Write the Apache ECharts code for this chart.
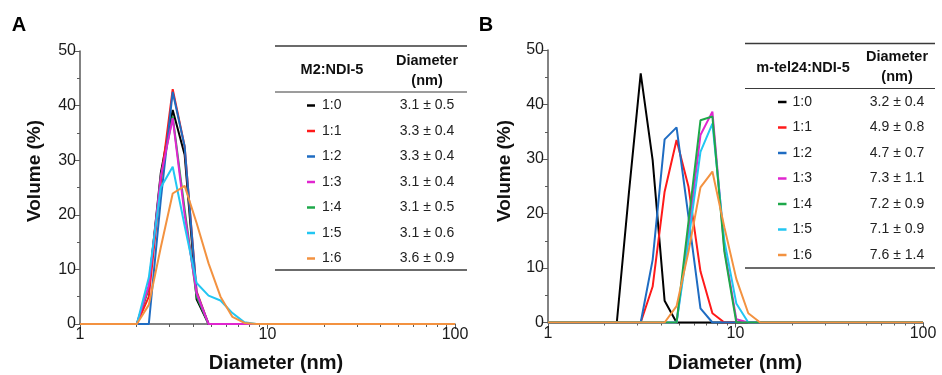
<!DOCTYPE html>
<html><head><meta charset="utf-8">
<script src="https://cdn.jsdelivr.net/npm/echarts@6/dist/echarts.min.js"></script>
<style>html,body{margin:0;padding:0;background:#fff}#c{width:942px;height:375px}</style>
</head><body><div id="c"></div>
<script>
// ---- data ----
const sizes = [1, 2.01, 2.328, 2.696, 3.122, 3.615, 4.187, 4.849, 5.615, 6.503, 7.531, 8.721, 10.1, 11.7, 13.54, 100];
const ratios = ['1:0', '1:1', '1:2', '1:3', '1:4', '1:5', '1:6'];
// Panel A (M2:NDI-5)
const aR10 = [0, 0, 6.8, 27.6, 39.2, 31, 4.5, 0, 0, 0, 0, 0, 0, 0, 0, 0];
const aR11 = [0, 0, 5, 26, 43, 32.5, 6, 0, 0, 0, 0, 0, 0, 0, 0, 0];
const aR12 = [0, 0, 0, 22.7, 42.5, 32.5, 5.7, 0, 0, 0, 0, 0, 0, 0, 0, 0];
const aR13 = [0, 0, 7, 27, 37.7, 20, 5.6, 0, 0, 0, 0, 0, 0, 0, 0, 0];
const aR14 = [0, 0, 6.5, 27, 38, 21, 5, 0, 0, 0, 0, 0, 0, 0, 0, 0];
const aR15 = [0, 0, 8.5, 25, 28.8, 18, 7.5, 5.2, 4.3, 2, 0.3, 0, 0, 0, 0, 0];
const aR16 = [0, 0, 3.5, 14, 23.9, 25.3, 18.5, 11.1, 5, 1.3, 0.2, 0, 0, 0, 0, 0];
// Panel B (m-tel24:NDI-5)
const bR10 = [0, 0, 0, 23.5, 45.7, 29.8, 4, 0, 0, 0, 0, 0, 0, 0, 0, 0];
const bR11 = [0, 0, 0, 0, 0, 6.6, 24, 33.5, 24.9, 9.4, 1.7, 0, 0, 0, 0, 0];
const bR12 = [0, 0, 0, 0, 0, 11.5, 33.6, 35.8, 19.4, 2.6, 0, 0, 0, 0, 0, 0];
const bR13 = [0, 0, 0, 0, 0, 0, 0, 0, 16.4, 34.4, 38.7, 13.5, 0.6, 0, 0, 0];
const bR14 = [0, 0, 0, 0, 0, 0, 0, 0, 18.5, 37.1, 37.8, 13, 0, 0, 0, 0];
const bR15 = [0, 0, 0, 0, 0, 0, 0, 0, 15, 31.3, 36.5, 15, 3.5, 0, 0, 0];
const bR16 = [0, 0, 0, 0, 0, 0, 0, 3, 13, 24.8, 27.7, 17.5, 8, 1.7, 0, 0];
const diamA = ['3.1 ± 0.5', '3.3 ± 0.4', '3.3 ± 0.4', '3.1 ± 0.4', '3.1 ± 0.5', '3.1 ± 0.6', '3.6 ± 0.9'];
const diamB = ['3.2 ± 0.4', '4.9 ± 0.8', '4.7 ± 0.7', '7.3 ± 1.1', '7.2 ± 0.9', '7.1 ± 0.9', '7.6 ± 1.4'];
const yTicks = [0, 10, 20, 30, 40, 50];
const xMinorTicks = [2, 3, 4, 5, 6, 7, 8, 9, 20, 30, 40, 50, 60, 70, 80, 90];

// ---- styling ----
const colors = ['#000000', '#ff1a1a', '#1f6cc2', '#e026cf', '#1ea84a', '#22c6f2', '#f39240'];
const FONT = '"Liberation Sans", Arial, sans-serif';
const seriesA = [aR10, aR11, aR12, aR13, aR14, aR15, aR16];
const seriesB = [bR10, bR11, bR12, bR13, bR14, bR15, bR16];
const orderA = [0, 4, 1, 2, 3, 5, 6];
const orderB = [0, 1, 2, 3, 5, 4, 6];

const chart = echarts.init(document.getElementById('c'), null, {renderer: 'canvas'});

const grids = [
  {left: 80, top: 51, width: 375, height: 273},
  {left: 548, top: 50, width: 375, height: 272.5}
];
const axisColor = '#5a5a5a';
const xAxes = [], yAxes = [];
[0, 1].forEach(g => {
  xAxes.push({
    type: 'log', logBase: 10, min: 1, max: 100, gridIndex: g, position: 'bottom',
    axisLine: {show: true, lineStyle: {color: axisColor, width: 1.5}},
    axisTick: {show: true, length: 5, lineStyle: {color: axisColor, width: 1}},
    axisLabel: {color: '#1a1a1a', fontSize: 16, fontFamily: FONT, margin: 3},
    splitLine: {show: false}
  });
  xAxes.push({
    type: 'log', logBase: 10, min: 1, max: 100, gridIndex: g, position: 'bottom', offset: 0,
    axisLine: {show: false},
    axisTick: {show: true, length: 3, customValues: xMinorTicks, lineStyle: {color: axisColor, width: 1}},
    axisLabel: {show: false},
    splitLine: {show: false}
  });
  yAxes.push({
    type: 'value', min: 0, max: 50, interval: 10, gridIndex: g,
    axisLine: {show: true, lineStyle: {color: axisColor, width: 1.5}},
    axisTick: {show: true, length: 5, lineStyle: {color: axisColor}},
    minorTick: {show: true, splitNumber: 2, length: 3, lineStyle: {color: axisColor}},
    axisLabel: {color: '#1a1a1a', fontSize: 16, fontFamily: FONT, margin: 4,
      customValues: yTicks},
    splitLine: {show: false}
  });
});

const series = [];
function addSeries(arrs, order, g) {
  order.forEach(i => {
    series.push({
      type: 'line', xAxisIndex: g * 2, yAxisIndex: g, name: ratios[i],
      data: sizes.map((s, k) => [s, arrs[i][k]]),
      showSymbol: false, symbol: 'none', animation: false,
      lineStyle: {color: colors[i], width: 2}, itemStyle: {color: colors[i]}
    });
  });
}
addSeries(seriesA, orderA, 0);
addSeries(seriesB, orderB, 1);

// ---- tables & labels as graphics ----
const graphic = [];
function txt(x, y, s, opt) {
  graphic.push({type: 'text', x: x, y: y, silent: true,
    style: Object.assign({text: s, fill: '#222', font: '14px ' + FONT, align: 'center', verticalAlign: 'middle'}, opt || {})});
}
function hline(x1, x2, y, w, c) {
  graphic.push({type: 'line', silent: true, shape: {x1: x1, y1: y, x2: x2, y2: y},
    style: {stroke: c || '#3a3a3a', lineWidth: w || 1}});
}
function table(cfg, header, diams) {
  hline(cfg.x1, cfg.x2, cfg.top, 1.3);
  txt(cfg.hx, cfg.hy, header, {font: 'bold 14.5px ' + FONT, fill: '#111'});
  txt(cfg.vx, cfg.d1, 'Diameter', {font: 'bold 14.5px ' + FONT, fill: '#111'});
  txt(cfg.vx, cfg.d2, '(nm)', {font: 'bold 14.5px ' + FONT, fill: '#111'});
  hline(cfg.x1, cfg.x2, cfg.sep, 1);
  ratios.forEach((r, i) => {
    const y = cfg.r0 + i * cfg.step;
    hline(cfg.dx1, cfg.dx2, y, 2.5, colors[i]);
    txt(cfg.lx, y, r, {align: 'left'});
    txt(cfg.vx, y, diams[i]);
  });
  hline(cfg.x1, cfg.x2, cfg.bottom, 1.3);
}
table({x1: 275, x2: 467, top: 46, hx: 332, hy: 70, vx: 427, d1: 61, d2: 81, sep: 92,
  r0: 105.5, step: 25.5, dx1: 307, dx2: 315, lx: 322, bottom: 270}, 'M2:NDI-5', diamA);
table({x1: 745, x2: 935, top: 43.5, hx: 803, hy: 68, vx: 897, d1: 57, d2: 77, sep: 88.5,
  r0: 102, step: 25.5, dx1: 778, dx2: 786.5, lx: 792.5, bottom: 268}, 'm-tel24:NDI-5', diamB);

// panel letters
txt(19, 25, 'A', {font: 'bold 20px ' + FONT, fill: '#000'});
txt(486, 25, 'B', {font: 'bold 20px ' + FONT, fill: '#000'});
// axis titles
[[35, 171], [505, 171]].forEach(p => {
  graphic.push({type: 'text', x: p[0], y: p[1], rotation: Math.PI / 2, silent: true,
    style: {text: 'Volume (%)', font: 'bold 19px ' + FONT, fill: '#111', align: 'center', verticalAlign: 'middle'}});
});
txt(276, 363, 'Diameter (nm)', {font: 'bold 20px ' + FONT, fill: '#111'});
txt(735, 363, 'Diameter (nm)', {font: 'bold 20px ' + FONT, fill: '#111'});

chart.setOption({
  animation: false,
  backgroundColor: '#ffffff',
  grid: grids,
  xAxis: xAxes,
  yAxis: yAxes,
  series: series,
  graphic: graphic
});
</script>
</body></html>
